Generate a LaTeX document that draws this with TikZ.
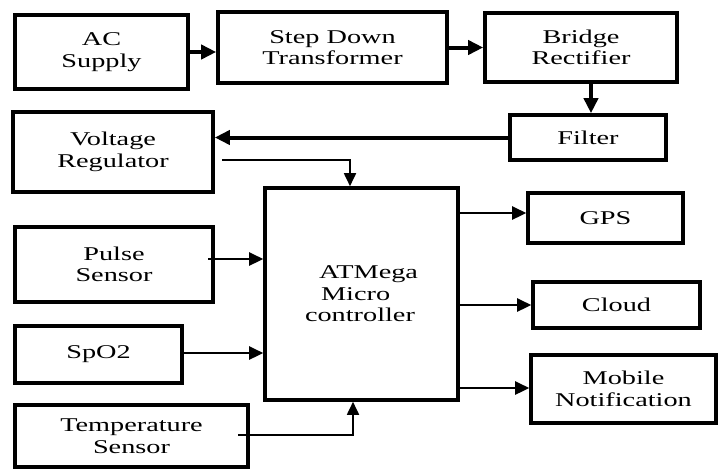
\documentclass[tikz,border=0pt]{standalone}
\usepackage{fontspec}
\setmainfont{Liberation Serif}[FakeStretch=1.45]
\usetikzlibrary{arrows.meta}
\begin{document}
\begin{tikzpicture}[x=1pt,y=-1pt,
  box/.style={draw,line width=3.6pt,inner sep=0pt,align=center,
    font=\fontsize{19.5}{21.5}\selectfont},
  thk/.style={line width=4pt,-{Triangle[length=15pt,width=14pt]}},
  thn/.style={line width=2.6pt,-{Triangle[length=14pt,width=13pt]}},
  hair/.style={line width=1.8pt,-{Triangle[length=13pt,width=12pt]}}]
\useasboundingbox (0,0) rectangle (718,469);
\node[box,minimum width=173pt,minimum height=74pt] (ac) at (101.5,52) {AC\\Supply};
\node[box,minimum width=229pt,minimum height=71pt] (sd) at (332.5,47.5) {Step Down\\Transformer};
\node[box,minimum width=192pt,minimum height=69pt] (br) at (581,47.5) {Bridge\\Rectifier};
\node[box,minimum width=156pt,minimum height=45pt] (fi) at (588,137.5) {Filter};
\node[box,minimum width=200pt,minimum height=80pt] (vr) at (113,152) {Voltage\\Regulator};
\node[box,minimum width=193pt,minimum height=212pt,align=left] (mc) at (361.5,294) {\hspace{14pt}ATMega\\\hspace{16pt}Micro\\controller};
\node[box,minimum width=198pt,minimum height=75pt] (ps) at (114,264.5) {Pulse\\Sensor};
\node[box,minimum width=167pt,minimum height=57pt] (sp) at (98.5,354.5) {SpO2};
\node[box,minimum width=233pt,minimum height=62pt] (ts) at (131.5,436) {Temperature\\Sensor};
\node[box,minimum width=155pt,minimum height=50pt] (gps) at (605.5,218) {GPS};
\node[box,minimum width=167pt,minimum height=46pt] (cl) at (616.5,305) {Cloud};
\node[box,minimum width=185pt,minimum height=68pt] (mn) at (623.5,389) {Mobile\\Notification};
\coordinate (vrout) at (222,160);
\coordinate (psout) at (208,259);
\coordinate (tsout) at (238,435);
\draw[thk] (ac.east) -- (ac.east -| sd.west);
\draw[thk] (sd.east) -- (sd.east -| br.west);
\draw[thk] (br.south -| 591,0) -- (fi.north -| 591,0);
\draw[thk] (fi.west) -- (fi.west -| vr.east);
\draw[hair] (vrout) -| ([xshift=-11.5pt]mc.north);
\draw[thn] (psout) -- (psout -| mc.west);
\draw[thn] (sp.east |- 0,353) -- (mc.west |- 0,353);
\draw[hair] (tsout) -| ([xshift=-8.5pt]mc.south);
\draw[thn] (mc.east |- 0,213) -- (gps.west |- 0,213);
\draw[thn] (mc.east |- cl.west) -- (cl.west);
\draw[thn] (mc.east |- 0,388) -- (mn.west |- 0,388);
\end{tikzpicture}
\end{document}
